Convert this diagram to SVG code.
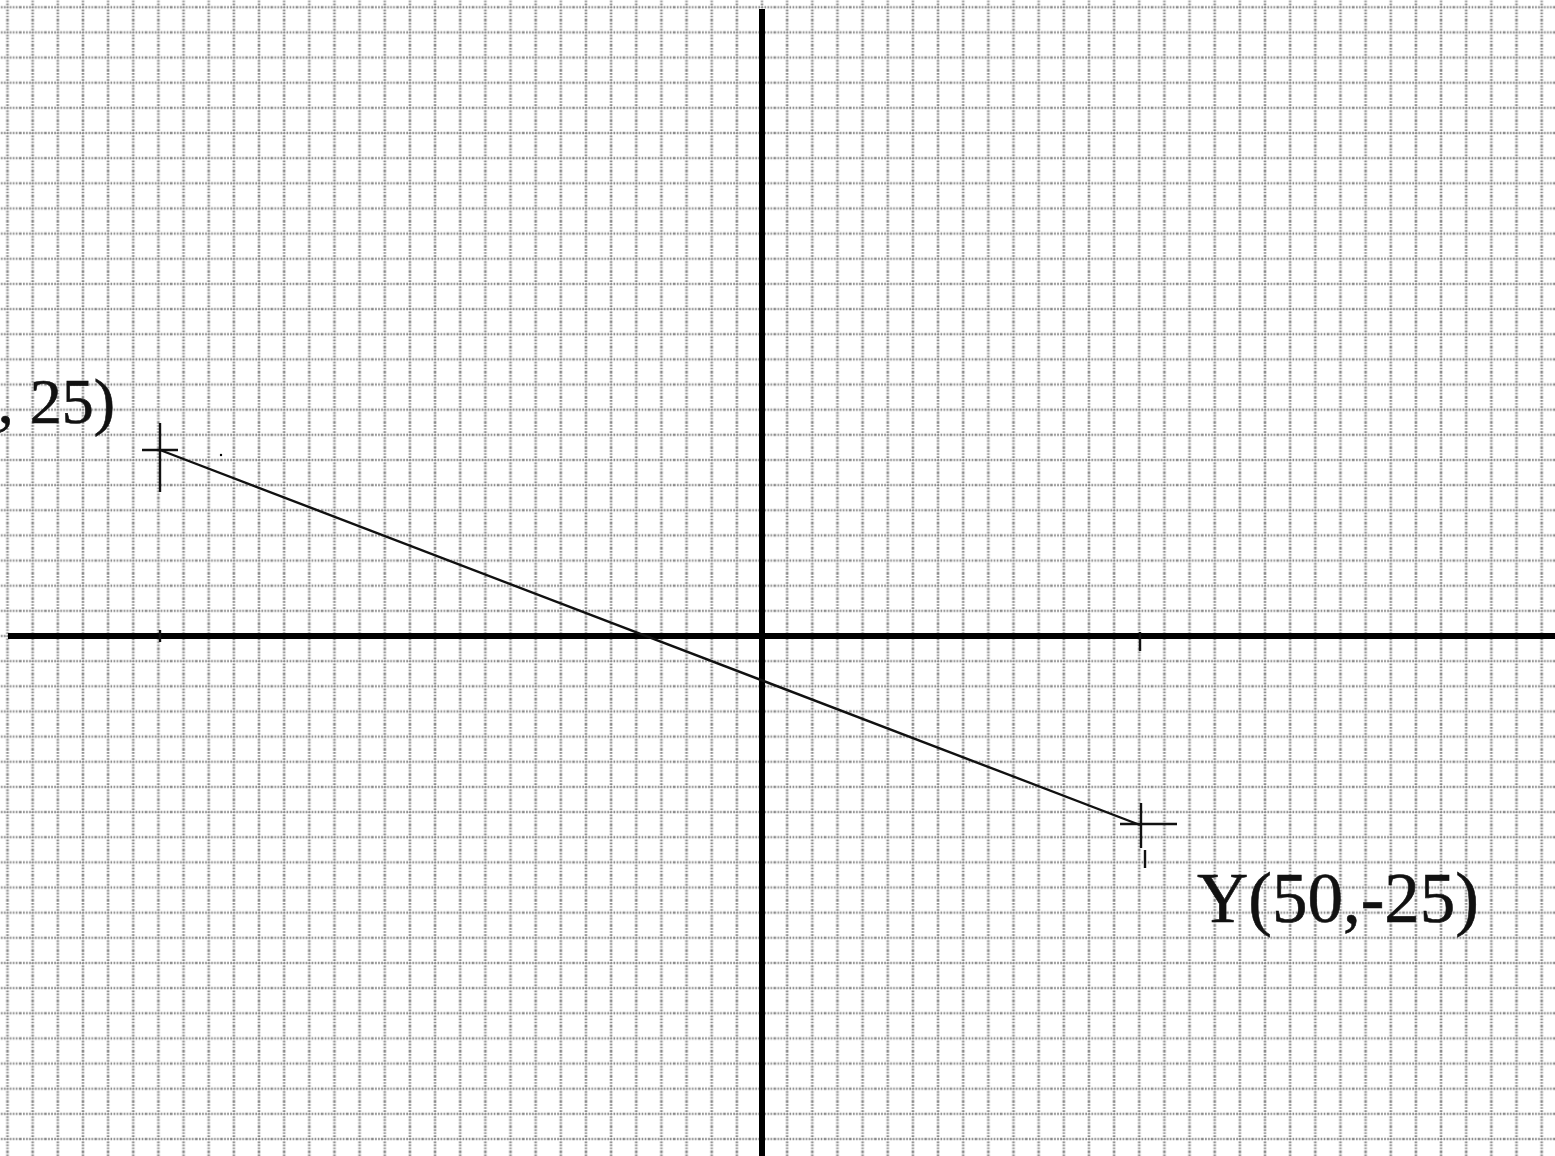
<svg xmlns="http://www.w3.org/2000/svg" width="1555" height="1156" viewBox="0 0 1555 1156">
  <style>
    .grid { stroke: #8a8a8a; stroke-width: 2.6; stroke-dasharray: 1.6 1.4; fill: none; }
    .axis { stroke: #000; stroke-width: 6; fill: none; }
    .thin { stroke: #111; stroke-width: 2.4; fill: none; }
    .lbl { font-family: "Liberation Serif", "Times New Roman", serif; fill: #111; stroke: #111; stroke-width: 0.6; }
  </style>
  <defs>
    <pattern id="gridPat" patternUnits="userSpaceOnUse" x="749.425" y="623.425" width="25.15" height="25.15">
      <line class="grid" x1="12.575" y1="0" x2="12.575" y2="25.15"/>
      <line class="grid" x1="0" y1="12.575" x2="25.15" y2="12.575"/>
    </pattern>
  </defs>
  <rect x="0" y="0" width="1555" height="1156" fill="#fff"/>
  <g id="grid">
    <rect x="0" y="0" width="1555" height="1156" fill="url(#gridPat)"/>
  </g>
  <g id="axes">
    <line class="axis" x1="8" y1="636" x2="1555" y2="636"/>
    <line class="axis" x1="762" y1="9" x2="762" y2="1156"/>
    <line class="thin" x1="160" y1="630" x2="160" y2="642"/>
    <line class="thin" x1="1140" y1="632" x2="1140" y2="651"/>
  </g>
  <g id="connectors">
    <line class="thin" x1="160" y1="450" x2="1140" y2="825"/>
  </g>
  <g id="pointX">
    <line class="thin" x1="160" y1="423" x2="160" y2="492"/>
    <line class="thin" x1="142" y1="450" x2="178" y2="450"/>
    <circle cx="221" cy="455" r="1.2" fill="#000"/>
    <text class="lbl" x="115" y="423" font-size="64" text-anchor="end">, 25)</text>
  </g>
  <g id="pointY">
    <line class="thin" x1="1141" y1="803" x2="1141" y2="848"/>
    <line class="thin" x1="1145" y1="850" x2="1145" y2="868"/>
    <line class="thin" x1="1120" y1="824" x2="1177" y2="824"/>
    <text class="lbl" x="1197" y="922" font-size="71">Y(50,-25)</text>
  </g>
</svg>
